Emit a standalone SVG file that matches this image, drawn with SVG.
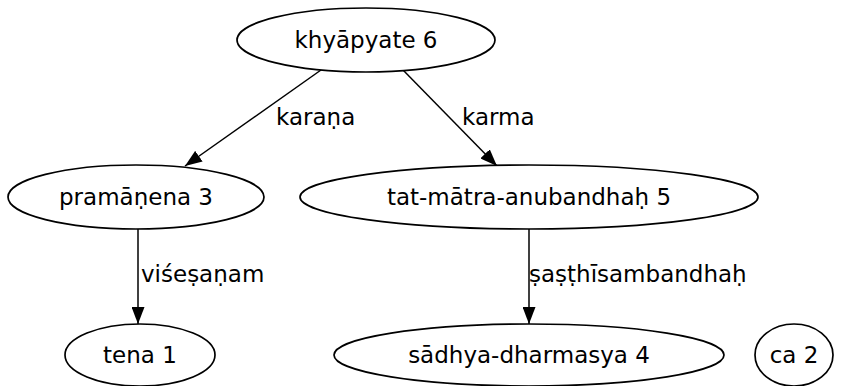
<svg xmlns="http://www.w3.org/2000/svg" width="860" height="386" viewBox="0 0 860 386">
  <style>
    .node ellipse { fill: #ffffff; stroke: #000000; stroke-width: 1.7; }
    .node text, .lbl { font-family: "DejaVu Sans", sans-serif; font-size: 23px; fill: #000000; }
    .node text { text-anchor: middle; }
    .edge { stroke: #000000; stroke-width: 1.5; fill: none; marker-end: url(#arrow); }
  </style>
  <defs>
    <marker id="arrow" viewBox="0 0 17 13" refX="17" refY="6.5" markerWidth="17" markerHeight="13" markerUnits="userSpaceOnUse" orient="auto">
      <path d="M0,0 L17,6.5 L0,13 Z" fill="#000000"/>
    </marker>
  </defs>
  <rect width="860" height="386" fill="#ffffff"/>

  <g id="connectors">
    <line class="edge" x1="321" y1="70" x2="185" y2="166"/>
    <line class="edge" x1="403" y1="70" x2="497" y2="166"/>
    <line class="edge" x1="138" y1="229" x2="138" y2="324"/>
    <line class="edge" x1="529" y1="229" x2="529" y2="324"/>
    <text class="lbl" x="276" y="125">karaṇa</text>
    <text class="lbl" x="462" y="125">karma</text>
    <text class="lbl" x="141" y="282">viśeṣaṇam</text>
    <text class="lbl" x="529" y="282">ṣaṣṭhīsambandhaḥ</text>
  </g>

  <g id="khyapyate" class="node">
    <ellipse cx="366" cy="40" rx="129" ry="32"/>
    <text x="366" y="48">khyāpyate 6</text>
  </g>
  <g id="pramanena" class="node">
    <ellipse cx="136" cy="197" rx="128" ry="32"/>
    <text x="136" y="205">pramāṇena 3</text>
  </g>
  <g id="tat-matra-anubandhah" class="node">
    <ellipse cx="529" cy="197" rx="229" ry="32"/>
    <text x="529" y="205">tat-mātra-anubandhaḥ 5</text>
  </g>
  <g id="tena" class="node">
    <ellipse cx="140" cy="355" rx="75" ry="31"/>
    <text x="140" y="363">tena 1</text>
  </g>
  <g id="sadhya-dharmasya" class="node">
    <ellipse cx="529" cy="355" rx="195" ry="31"/>
    <text x="529" y="363">sādhya-dharmasya 4</text>
  </g>
  <g id="ca" class="node">
    <ellipse cx="794" cy="355" rx="39" ry="31"/>
    <text x="794" y="363">ca 2</text>
  </g>
</svg>
